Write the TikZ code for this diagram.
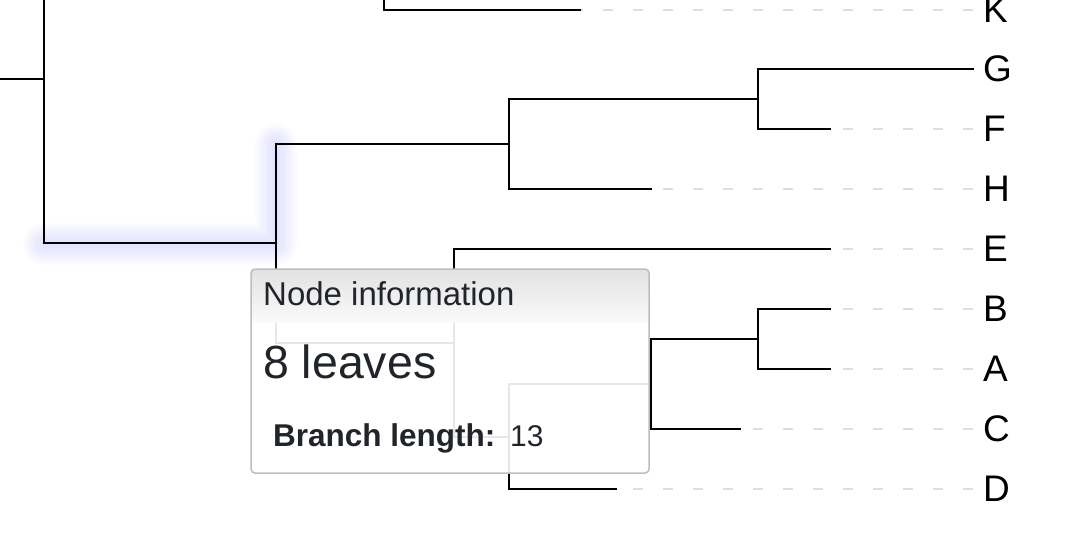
\documentclass[tikz,border=0pt]{standalone}
\usepackage{fontspec}
\setmainfont{Liberation Sans}
\usetikzlibrary{calc}
\definecolor{dashgray}{HTML}{DEDEDE}
\definecolor{tiptext}{HTML}{212529}
\definecolor{tipborder}{HTML}{BDBDBD}
\definecolor{tiptop}{HTML}{E2E2E2}
\definecolor{tipmid}{HTML}{FAFAFA}
\definecolor{glowblue}{HTML}{B8B8FF}
\tikzset{
  branch/.style={line width=2pt, black, line cap=rect},
  dashline/.style={line width=2pt, dashgray, dash pattern=on 10pt off 20pt},
  leaflabel/.style={anchor=west, inner sep=0pt, font=\fontsize{37}{40}\selectfont},
  glow/.style={line width=#1, glowblue, opacity=0.04, line cap=round, line join=round},
}
\begin{document}
\begin{tikzpicture}[x=1pt, y=-1pt]
\useasboundingbox (0,0) rectangle (1082,554);
\clip (0,0) rectangle (1082,554);
\fill[white] (0,0) rectangle (1082,554);

% internal nodes
\coordinate (stub) at (0,79);
\coordinate (n0) at (44,79);
\coordinate (nT) at (44,-85);
\coordinate (n1) at (276,243);
\coordinate (n2) at (509,144);
\coordinate (n4) at (758,99);
\coordinate (n3) at (454,343);
\coordinate (n5) at (509,437);
\coordinate (n6) at (651,384);
\coordinate (n7) at (758,339);
\coordinate (nK) at (384,-30);
% leaf ends
\coordinate (lK) at (580,10);
\coordinate (lG) at (973,69);
\coordinate (lF) at (830,129);
\coordinate (lH) at (651,189);
\coordinate (lE) at (830,249);
\coordinate (lB) at (830,309);
\coordinate (lA) at (830,369);
\coordinate (lC) at (740,429);
\coordinate (lD) at (616,489);

% highlight glow
\foreach \w in {42,38,34,30,26,22,18,14,10,6}{
  \draw[glow=\w pt] (44,244) -- (276,244) -- (276,144);
}

% labels
\node[leaflabel] (K) at (983,10) {K};
\node[leaflabel] (G) at (983,69) {G};
\node[leaflabel] (F) at (983,129) {F};
\node[leaflabel] (H) at (983,189) {H};
\node[leaflabel] (E) at (983,249) {E};
\node[leaflabel] (B) at (983,309) {B};
\node[leaflabel] (A) at (983,369) {A};
\node[leaflabel] (C) at (983,429) {C};
\node[leaflabel] (D) at (983,489) {D};

% dashed guides
\foreach \l in {K,F,H,E,B,A,C,D}{
  \draw[dashline] ([xshift=-10pt]\l.west) -- (l\l);
}

% branches
\draw[branch] (stub) -- (n0);
\draw[branch] (n0) |- (nT);
\draw[branch] (n0) |- (n1);
\draw[branch] (n1) |- (n2);
\draw[branch] (n1) |- (n3);
\draw[branch] (n2) |- (n4);
\draw[branch] (n2) |- (lH);
\draw[branch] (n4) |- (lG);
\draw[branch] (n4) |- (lF);
\draw[branch] (n3) |- (lE);
\draw[branch] (n3) |- (n5);
\draw[branch] (n5) |- (n6);
\draw[branch] (n5) |- (lD);
\draw[branch] (n6) |- (n7);
\draw[branch] (n6) |- (lC);
\draw[branch] (n7) |- (lB);
\draw[branch] (n7) |- (lA);
\draw[branch] (nK) |- (lK);

% tooltip
\fill[white, opacity=0.9, rounded corners=4pt] (251,269) rectangle (649,473);
\begin{scope}
  \clip[rounded corners=4pt] (251,269) rectangle (649,473);
  \shade[top color=tiptop, bottom color=tipmid] (251,269) rectangle (649,322);
\end{scope}
\draw[tipborder, line width=1.5pt, rounded corners=4pt] (251,269) rectangle (649,473);
\node[anchor=base west, inner sep=0pt, text=tiptext, font=\fontsize{33}{36}\selectfont] (title) at (263,305) {Node information};
\node[anchor=base west, inner sep=0pt, text=tiptext, font=\fontsize{46.5}{50}\selectfont] (leaves) at (263,378) {8 leaves};
\node[anchor=base west, inner sep=0pt, text=tiptext, font=\fontsize{31.5}{34}\selectfont\bfseries] (blabel) at (273,446) {Branch length:};
\node[anchor=base west, inner sep=0pt, text=tiptext, font=\fontsize{30}{34}\selectfont] (bval) at (510,446) {13};
\end{tikzpicture}
\end{document}
